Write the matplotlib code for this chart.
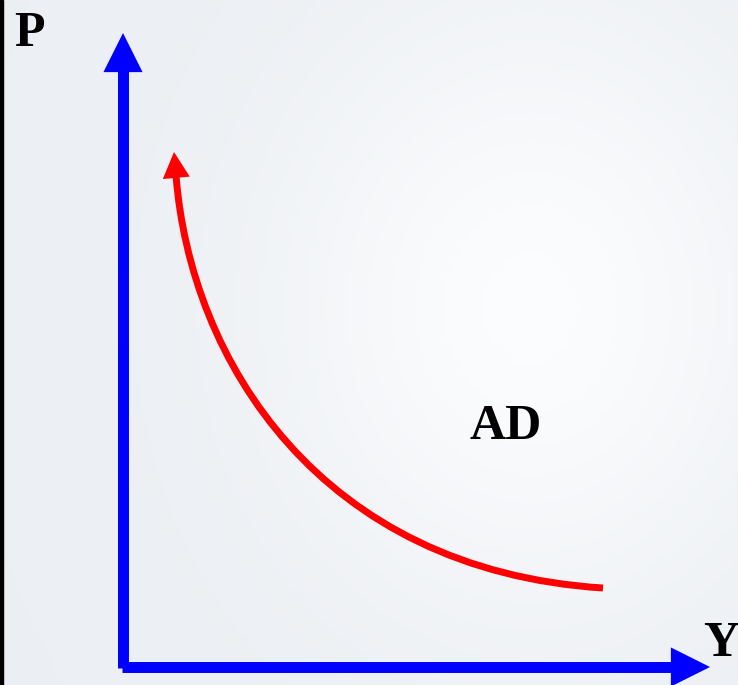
import matplotlib.pyplot as plt
import numpy as np
from matplotlib.patches import FancyArrowPatch, PathPatch
from matplotlib.path import Path

ad_ctrl_y = [5.3, 6.7, 19.7, 48.0]
ad_ctrl_p = [49.2, 30.7, 9.7, 7.9]
ad_tip = (5.1, 51.5)

# axis arrows: shaft start, tip
p_axis = [(0.0, -0.1), (0.0, 63.4)]
y_axis = [(-0.1, 0.0), (58.7, 0.0)]

labels = {"P": (-9.4, 63.3), "Y": (59.8, 2.3), "AD": (38.3, 24.0)}

fig = plt.figure(figsize=(7.38, 6.85), dpi=100)
ax = fig.add_axes([0, 0, 1, 1])
ax.set_xlim(-12.3, 61.5)
ax.set_ylim(-1.8, 66.7)
ax.axis("off")

# pale backdrop: grey-blue with a soft white glow to the right
gx, gy = np.meshgrid(np.linspace(0, 1, 200), np.linspace(0, 1, 200))
glow = np.exp(-(((gx - 0.72) / 0.35) ** 2 + ((gy - 0.55) / 0.45) ** 2))
base = np.array([0.925, 0.937, 0.953])
white = np.array([0.985, 0.99, 0.995])
img = base[None, None, :] + (white - base)[None, None, :] * glow[..., None]
ax.imshow(img, extent=(-12.3, 61.5, -1.8, 66.7), origin="lower", aspect="auto", zorder=0)
ax.axvspan(-12.3, -12.0, color="black", zorder=1)


def head(ax, start, tip, color, length_pt, ratio):
    # arrow head only; the shaft is drawn separately
    hyp = length_pt * np.hypot(1, ratio)
    ax.add_patch(FancyArrowPatch(start, tip,
                                 arrowstyle=f"-|>,head_length={hyp:.2f},head_width={hyp * ratio:.2f}",
                                 mutation_scale=1, color=color, lw=0, shrinkA=0, shrinkB=0, zorder=4))


# blue axes
hl = 3.5  # head length in data units (35 px)
for (x0, y0), (x1, y1) in (p_axis, y_axis):
    dx, dy = np.sign(x1 - x0), np.sign(y1 - y0)
    ax.plot([x0, x1 - dx * (hl - 0.5)], [y0, y1 - dy * (hl - 0.5)], color="#0000ff",
            lw=7.9, solid_capstyle="butt", zorder=3)
    head(ax, (x1 - dx * hl, y1 - dy * hl), (x1, y1), "#0000ff", 35 * 0.72, 0.5)

# red AD curve
verts = list(zip(ad_ctrl_y, ad_ctrl_p))
curve = Path(verts, [Path.MOVETO, Path.CURVE4, Path.CURVE4, Path.CURVE4])
ax.add_patch(PathPatch(curve, fc="none", ec="#ff0000", lw=5.0, capstyle="butt", zorder=4))
head(ax, (ad_ctrl_y[0] + 0.05, ad_ctrl_p[0] - 0.5), ad_tip, "#ff0000", 23 * 0.72, 12 / 23)

for txt, (x, y) in labels.items():
    ax.text(x, y, txt, ha="center", va="center", fontsize=36, fontweight="bold",
            family="Liberation Serif", color="black", zorder=5)

fig.savefig("out.png", dpi=100)
